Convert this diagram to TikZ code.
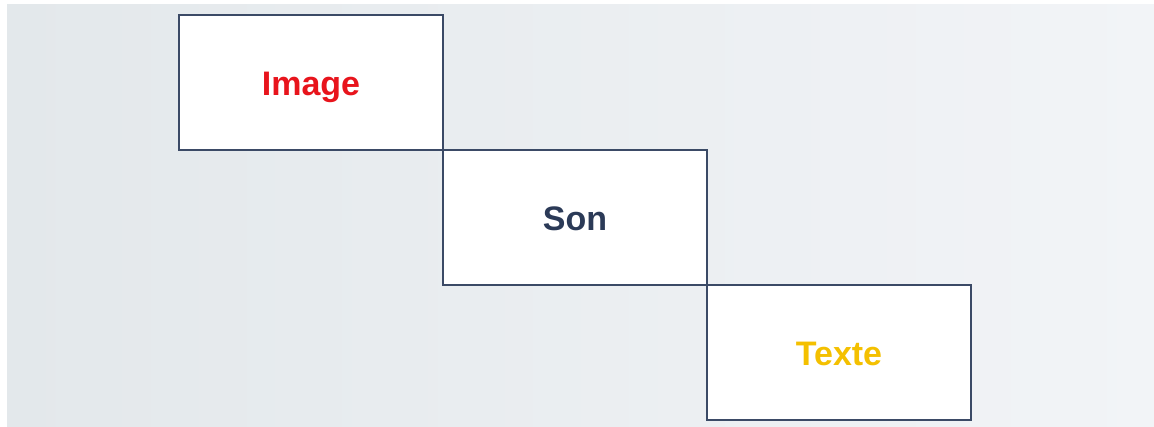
\documentclass[tikz,border=0pt]{standalone}
\usepackage{fontspec}
\setmainfont{Liberation Sans}
\usepackage{xcolor}
\usetikzlibrary{positioning}

\definecolor{frame}{HTML}{3B4A66}
\definecolor{imgred}{HTML}{E8141C}
\definecolor{sonblue}{HTML}{2B3A57}
\definecolor{txtgold}{HTML}{F4C000}
\definecolor{bgleft}{HTML}{E3E8EB}
\definecolor{bgright}{HTML}{F2F4F7}

\begin{document}
\begin{tikzpicture}[
  x=1pt, y=-1pt,
  font=\fontsize{34}{40}\selectfont\bfseries,
  block/.style={draw=frame, line width=2.2pt, fill=white, outer sep=0pt,
    minimum width=264pt, minimum height=135pt, align=center,
    text height=25pt, text depth=0pt}
]
\useasboundingbox (0,0) rectangle (1154,426);
\shade[left color=bgleft, right color=bgright] (7,4) rectangle (1154,426);

\node[block, text=imgred] (image) at (311,82.5) {Image};
\node[block, text=sonblue, anchor=north west] (son) at (image.south east) {Son};
\node[block, text=txtgold, anchor=north west] (texte) at (son.south east) {Texte};

\end{tikzpicture}
\end{document}
